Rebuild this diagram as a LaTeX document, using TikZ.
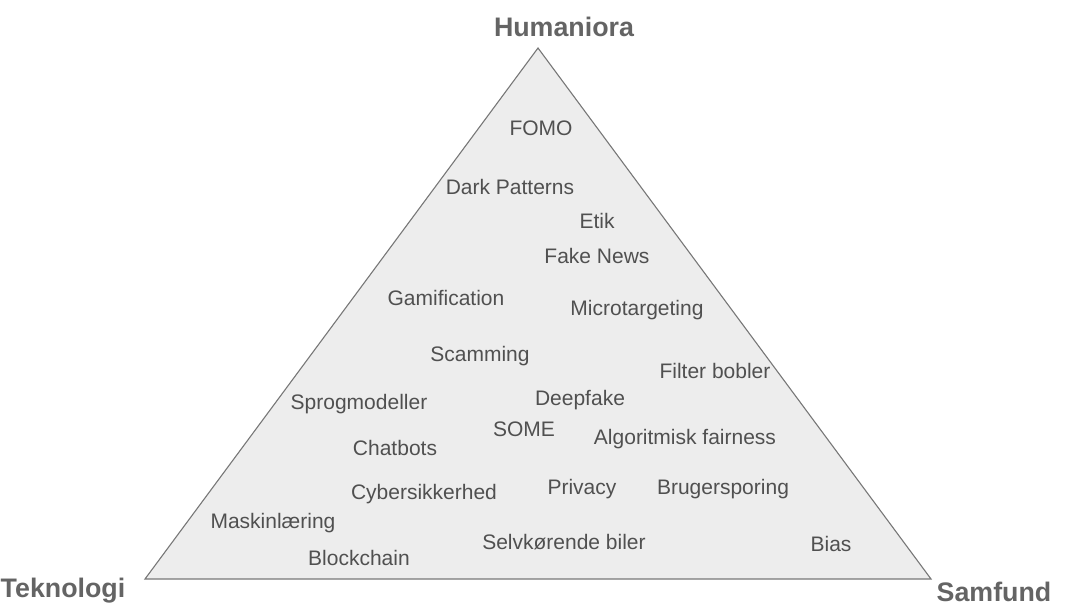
\documentclass[tikz,border=0pt]{standalone}
\usepackage{fontspec}
\setmainfont{Liberation Sans}
\definecolor{txt}{HTML}{505050}
\definecolor{ttl}{HTML}{646464}
\definecolor{tri}{HTML}{EDEDED}
\definecolor{edge}{HTML}{777777}
\begin{document}
\begin{tikzpicture}[x=1pt,y=-1pt,
  term/.style={text=txt,font=\fontsize{21}{25}\selectfont,inner sep=0pt},
  corner/.style={text=ttl,font=\bfseries\fontsize{26.8}{30}\selectfont,inner sep=0pt}]
\useasboundingbox (0,0) rectangle (1069,606);
\coordinate (top) at (538,48);
\coordinate (bl) at (145,579);
\coordinate (br) at (931,579);
\filldraw[fill=tri,draw=edge,line width=1.1pt,line join=miter] (top) -- (bl) -- (br) -- cycle;
\node[corner] (hum) at (564,27) {Humaniora};
\node[corner] (tek) at (63,591) {Teknologi};
\node[corner] (sam) at (994,592) {Samfund};
\node[term] (fomo) at (541,128) {FOMO};
\node[term] (dark) at (510,187) {Dark Patterns};
\node[term] (etik) at (597,221) {Etik};
\node[term] (fake) at (597,256) {Fake News};
\node[term] (gami) at (446,298) {Gamification};
\node[term] (micro) at (637,310) {Microtargeting};
\node[term] (scam) at (480,356) {Scamming};
\node[term] (filter) at (715,371) {Filter bobler};
\node[term] (deep) at (580,400) {Deepfake};
\node[term] (sprog) at (359,404) {Sprogmodeller};
\node[term] (some) at (524,429) {SOME};
\node[term] (algo) at (685,439) {Algoritmisk fairness};
\node[term] (chat) at (395,448) {Chatbots};
\node[term] (cyber) at (424,494) {Cybersikkerhed};
\node[term] (priv) at (582,489) {Privacy};
\node[term] (bruger) at (723,489) {Brugersporing};
\node[term] (mask) at (273,523) {Maskinlæring};
\node[term] (selv) at (564,542) {Selvkørende biler};
\node[term] (block) at (359,558) {Blockchain};
\node[term] (bias) at (831,544) {Bias};
\end{tikzpicture}
\end{document}
